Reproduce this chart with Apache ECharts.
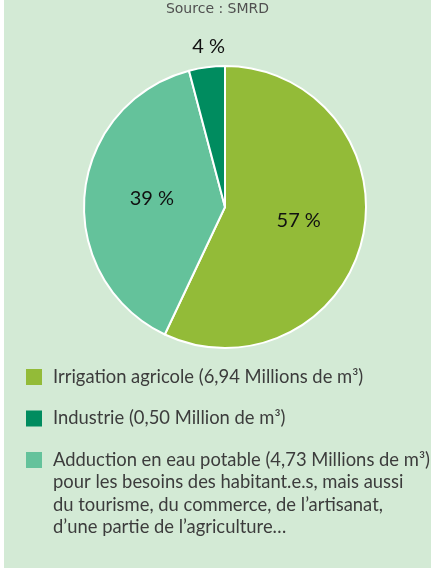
<!DOCTYPE html>
<html>
<head>
    <meta charset="utf-8">
    <title>Usages de l'eau</title>
    <style>
        html, body {
            margin: 0;
            padding: 0;
            background: #ffffff;
            overflow: hidden;
        }
        #chart {
            position: absolute;
            left: 4px;
            top: 0;
            width: 427px;
            height: 568px;
        }
    </style>
</head>
<body>
<div id="chart"></div>
<script src="https://cdn.jsdelivr.net/npm/echarts@6/dist/echarts.min.js"></script>
<script>
    // données (pie dans l'ordre horaire depuis midi)
    var categories = ['Irrigation agricole', 'Adduction en eau potable', 'Industrie'];
    var volumes = [6.94, 4.73, 0.50];          // millions de m3
    var percents = ['57 %', '39 %', '4 %'];    // étiquettes affichées
    var legendOrder = ['Irrigation agricole', 'Industrie', 'Adduction en eau potable'];
    var legendTexts = {
        'Irrigation agricole': 'Irrigation agricole (6,94 Millions de m³)',
        'Industrie': 'Industrie (0,50 Million de m³)',
        'Adduction en eau potable': 'Adduction en eau potable (4,73 Millions de m³)'
    };
    var noteLines = [
        'pour les besoins des habitant.e.s, mais aussi',
        'du tourisme, du commerce, de l\u2019artisanat,',
        'd\u2019une partie de l\u2019agriculture\u2026'
    ];
    var colors = ['#93bb38', '#64c29b', '#008c5f'];
    // décalages des étiquettes
    var labelOffsets = [[2, -3], [0, -2], [-7, -88]];

    var FONT = 'Lato';
    var chart = echarts.init(document.getElementById('chart'));

    var pieData = categories.map(function (name, i) {
        return {
            name: name,
            value: volumes[i],
            itemStyle: { color: colors[i] },
            label: { offset: labelOffsets[i] }
        };
    });

    chart.setOption({
        backgroundColor: '#d3ead5',
        animation: false,
        title: {
            text: 'Source : SMRD',
            left: 'center',
            top: 2,
            padding: 0,
            textStyle: {
                fontFamily: 'DejaVu Sans',
                fontWeight: 'normal',
                fontSize: 14,
                color: '#505050'
            }
        },
        legend: {
            orient: 'vertical',
            left: 22,
            top: 368,
            padding: 0,
            itemWidth: 16,
            itemHeight: 16,
            itemGap: 23.5,
            icon: 'rect',
            itemStyle: { borderWidth: 0 },
            data: legendOrder,
            selectedMode: false,
            formatter: function (name) {
                return legendTexts[name];
            },
            textStyle: {
                fontFamily: FONT,
                fontSize: 18.4,
                lineHeight: 16,
                color: '#3c3c3c',
                padding: [0, 0, 0, 6]
            }
        },
        graphic: [{
            type: 'text',
            left: 49,
            top: 471,
            style: {
                text: noteLines.join('\n'),
                font: '18.4px ' + FONT,
                lineHeight: 22.5,
                fill: '#3c3c3c'
            }
        }],
        series: [{
            type: 'pie',
            center: [221, 207],
            radius: 141,
            startAngle: 90,
            clockwise: true,
            avoidLabelOverlap: false,
            itemStyle: {
                borderColor: '#ffffff',
                borderWidth: 2
            },
            label: {
                show: true,
                position: 'inside',
                fontFamily: FONT,
                fontSize: 20,
                color: '#111111',
                formatter: function (p) {
                    return percents[p.dataIndex];
                }
            },
            labelLine: { show: false },
            emphasis: { disabled: true },
            data: pieData
        }]
    });
</script>
</body>
</html>
